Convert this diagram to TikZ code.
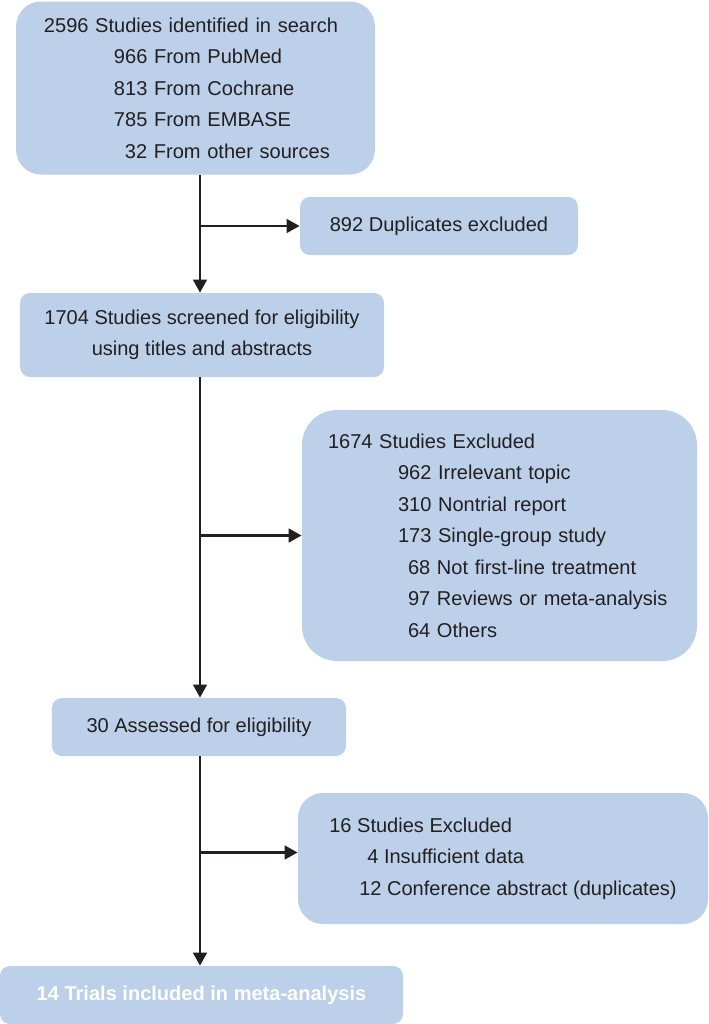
\documentclass[tikz,border=0pt]{standalone}
\usepackage{fontspec}
\setmainfont{Liberation Sans}
\usepackage{xcolor}
\usepackage{tikz}
\usetikzlibrary{arrows.meta}
\definecolor{boxblue}{RGB}{188,208,234}
\definecolor{darktext}{RGB}{35,31,32}
\tikzstyle{box} = [rectangle, rounded corners=0.2cm, 
minimum height=1.16cm, 
align=center, 
fill=boxblue, 
text=darktext]
\tikzstyle{listbox} = [rectangle, 
align=left, 
fill=boxblue, 
text=darktext]
\tikzstyle{result} = [box, text=white, font=\fontsize{11.4pt}{17.9pt}\selectfont\bfseries]
\tikzstyle{arrow} = [line width=1.6pt, draw=darktext, -{Triangle[length=0.26cm,width=0.27cm]}]

\begin{document}
\begin{tikzpicture}[font=\fontsize{11.4pt}{17.9pt}\selectfont]
\useasboundingbox (0,0) rectangle (14.18,-20.48);

\node (search) [listbox, rounded corners=0.5cm, inner xsep=0.56cm, text width=6.06cm, minimum height=3.46cm] at (3.91,-1.76) {2596 Studies identified in search\\
\hspace*{1.40cm}966 From PubMed\\
\hspace*{1.40cm}813 From Cochrane\\
\hspace*{1.40cm}785 From EMBASE\\
\hspace*{1.62cm}32 From other sources};
\node (dup) [box, minimum width=5.56cm] at (8.78,-4.52) {892 Duplicates excluded};
\node (screen) [box, minimum width=7.28cm, minimum height=1.68cm] at (4.04,-6.70) {1704 Studies screened for eligibility\\
using titles and abstracts};
\node (excl1) [listbox, rounded corners=0.7cm, inner xsep=0.52cm, text width=6.86cm, minimum height=5.02cm] at (9.99,-10.71) {1674 Studies Excluded\\
\hspace*{1.40cm}962 Irrelevant topic\\
\hspace*{1.40cm}310 Nontrial report\\
\hspace*{1.40cm}173 Single-group study\\
\hspace*{1.60cm}68 Not first-line treatment\\
\hspace*{1.60cm}97 Reviews or meta-analysis\\
\hspace*{1.60cm}64 Others};
\node (assess) [box, minimum width=5.88cm] at (3.98,-14.54) {30 Assessed for eligibility};
\node (excl2) [listbox, rounded corners=0.5cm, minimum width=8.20cm, minimum height=2.62cm] at (10.06,-17.17) {16 Studies Excluded\\
\hspace*{0.76cm}4 Insufficient data\\
\hspace*{0.60cm}12 Conference abstract (duplicates)};
\node (incl) [result, minimum width=8.06cm] at (4.03,-19.90) {14 Trials included in meta-analysis};

% main line
\coordinate (trunk) at (4.0,0);
\draw [arrow] (trunk |- search.south) -- (trunk |- screen.north);
\draw [arrow] (trunk |- screen.south) -- (trunk |- assess.north);
\draw [arrow] (trunk |- assess.south) -- (trunk |- incl.north);

% exclusions
\coordinate (excl2in) at ([yshift=0.12cm]excl2.west);
\draw [arrow] (trunk |- dup.west) -- (dup.west);
\draw [arrow] (trunk |- excl1.west) -- (excl1.west);
\draw [arrow] (trunk |- excl2in) -- (excl2in);

\end{tikzpicture}
\end{document}
